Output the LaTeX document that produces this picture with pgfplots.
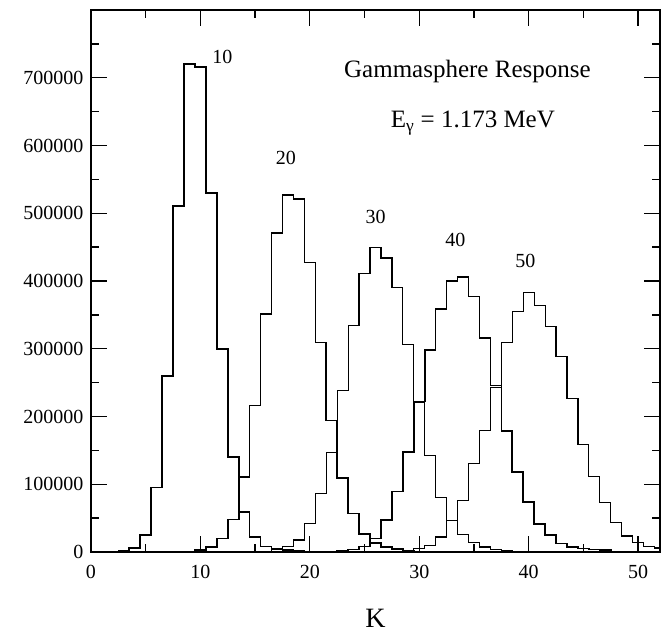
\documentclass[border=0pt]{standalone}
\usepackage{fontspec}
\setmainfont{Liberation Serif}
\usepackage{pgfplots}
\pgfplotsset{compat=1.18}
\usetikzlibrary{calc}
\begin{document}
\begin{tikzpicture}
\begin{axis}[
  scale only axis, width=569pt, height=542pt,
  xmin=0, xmax=52, ymin=0, ymax=800000,
  xtick={0,10,...,50}, minor xtick={5,15,...,45},
  ytick={0,100000,...,700000}, minor ytick={50000,150000,...,750000},
  tick align=inside, major tick length=16pt, minor tick length=8pt,
  every tick/.style={black, line width=1.3pt},
  axis line style={line width=1.4pt},
  scaled y ticks=false,
  /pgf/number format/assume math mode=true,
  yticklabel style={/pgf/number format/fixed, /pgf/number format/precision=0, /pgf/number format/1000 sep={}, xshift=-4pt},
  xticklabel style={yshift=-10pt},
  ticklabel style={font=\fontsize{20}{24}\selectfont},
  xlabel={K},
  xlabel style={font=\fontsize{28}{32}\selectfont, at={(axis description cs:0.5,0)}, anchor=base, yshift=-76pt},
]
% K = 10
\addplot[const plot mark mid, black, line width=1.6pt] coordinates {
(2,0)(3,1500)(4,6000)(5,25000)(6,95000)(7,260000)(8,511000)(9,720000)(10,716000)(11,530000)(12,300000)(13,140000)(14,59000)(15,22500)(16,8000)(17,4000)(18,3000)(19,2000)(20,1000)(21,0)};
% K = 20
\addplot[const plot mark mid, black, line width=1.6pt] coordinates {
(7,0)(8,500)(9,1000)(10,3000)(11,7000)(12,20000)(13,48000)(14,111000)(15,216000)(16,351000)(17,471000)(18,527000)(19,521000)(20,427000)(21,309000)(22,194000)(23,109000)(24,57000)(25,26500)(26,13000)(27,7000)(28,4000)(29,2000)(30,1000)(31,0)};
% K = 30
\addplot[const plot mark mid, black, line width=1.2pt] coordinates {
(15,0)(16,1000)(17,3500)(18,7800)(19,17600)(20,42000)(21,86000)(22,147000)(23,238000)(24,334000)(25,411000)(26,450000)(27,434000)(28,390000)(29,306000)(30,221000)(31,142000)(32,81000)(33,46000)(34,26000)(35,14000)(36,7500)(37,4000)(38,2000)(39,1000)(40,0)};
% K = 40
\addplot[const plot mark mid, black, line width=1.6pt] coordinates {
(21,0)(22,800)(23,1500)(24,3500)(25,8000)(26,20000)(27,47000)(28,89000)(29,148000)(30,222000)(31,298000)(32,359000)(33,400000)(34,406000)(35,377000)(36,316000)(37,246000)(38,179000)(39,118000)(40,73500)(41,41000)(42,25000)(43,12700)(44,7800)(45,5000)(46,3500)(47,2500)(48,1000)(49,0)};
% K = 50
\addplot[const plot mark mid, black, line width=1.2pt] coordinates {
(26,0)(27,500)(28,1000)(29,2500)(30,5000)(31,10000)(32,22000)(33,46000)(34,76000)(35,131000)(36,179000)(37,243000)(38,309000)(39,355000)(40,383000)(41,364000)(42,333000)(43,288000)(44,226000)(45,159000)(46,111000)(47,73500)(48,43000)(49,23500)(50,13700)(51,7800)(52,6000)};

\node[font=\fontsize{20}{24}\selectfont] at (axis cs:12.0,731000) {10};
\node[font=\fontsize{20}{24}\selectfont] at (axis cs:17.8,581000) {20};
\node[font=\fontsize{20}{24}\selectfont] at (axis cs:26.0,495000) {30};
\node[font=\fontsize{20}{24}\selectfont] at (axis cs:33.3,460000) {40};
\node[font=\fontsize{20}{24}\selectfont] at (axis cs:39.7,429000) {50};
\node[font=\fontsize{25}{29}\selectfont, anchor=base] at (axis cs:34.4,701000) {Gammasphere Response};
\node[font=\fontsize{25}{29}\selectfont, anchor=base] at (axis cs:34.9,626000) {E\textsubscript{γ} = 1.173 MeV};
\end{axis}
\path ($(current axis.south west)+(-91pt,-82pt)$) rectangle ($(current axis.north east)+(8pt,10pt)$);
\end{tikzpicture}
\end{document}
